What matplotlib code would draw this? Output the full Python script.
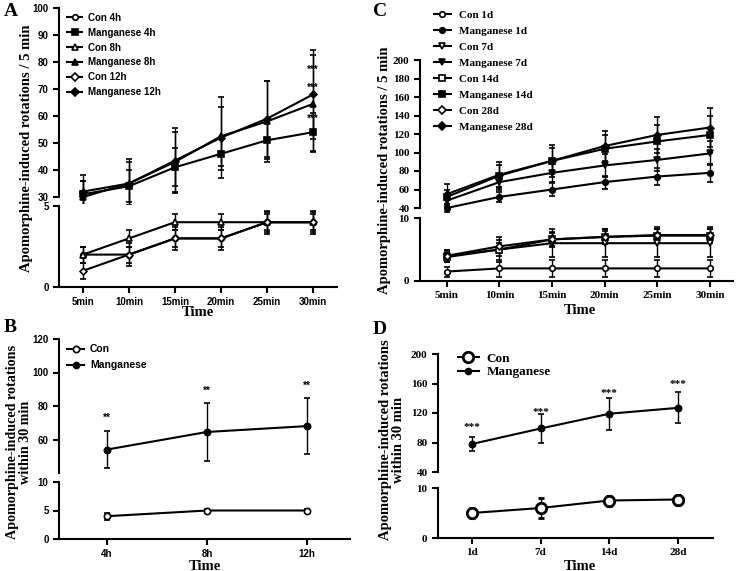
import matplotlib
matplotlib.use("Agg")
import matplotlib.pyplot as plt
import numpy as np
from matplotlib.lines import Line2D
from matplotlib.patches import Rectangle

SERIF = "Liberation Serif"
SANS = "Liberation Sans"

# ---------------- data ----------------
time_a = ["5min", "10min", "15min", "20min", "25min", "30min"]
man_4h = [31, 34, 41, 46, 51, 54]
man_4h_err = [5, 6, 7, 6, 7, 7]
man_8h = [30, 35, 43, 52.5, 58, 64.5]
man_8h_err = [6, 8, 11, 11, 15, 18]
man_12h = [32, 35, 43.5, 52, 59, 68]
man_12h_err = [6, 9, 12, 15, 14, 16.5]
con_4h = [2, 2, 3, 3, 4, 4]
con_4h_err = [0.5, 0.5, 0.5, 0.5, 0.5, 0.5]
con_8h = [2, 3, 4, 4, 4, 4]
con_8h_err = [0.5, 0.5, 0.5, 0.5, 0.6, 0.6]
con_12h = [1, 2, 3, 3, 4, 4]
con_12h_err = [0.5, 0.7, 0.7, 0.7, 0.7, 0.7]
stars_a = [77, 70.5, 59]

time_c = ["5min", "10min", "15min", "20min", "25min", "30min"]
man_1d = [40, 52, 60, 68, 74, 78]
man_1d_err = [4, 5, 7, 7, 9, 10]
man_7d = [48, 68, 78, 86, 92, 99]
man_7d_err = [6, 8, 10, 12, 12, 13]
man_14d = [52, 75, 91, 104, 112, 119]
man_14d_err = [8, 12, 14, 15, 18, 20]
man_28d = [55, 76, 91, 107, 119, 127]
man_28d_err = [11, 14, 17, 16, 19, 21]
con_1d = [1.5, 2, 2, 2, 2, 2]
con_1d_err = [0.8, 1.3, 1.3, 1.3, 1.3, 1.3]
con_7d = [4, 5, 6, 6, 6, 6]
con_7d_err = [1, 2, 2.2, 2.2, 2.2, 2.2]
con_14d = [3.8, 5, 6.6, 7, 7.2, 7.2]
con_14d_err = [0.8, 1, 1, 1, 1, 1]
con_28d = [4, 5.5, 6.6, 7, 7.3, 7.3]
con_28d_err = [1, 1, 1.2, 1.2, 1.2, 1.2]

time_b = ["4h", "8h", "12h"]
man_b = [54, 64.5, 68]
man_b_err = [11, 17.5, 16.5]
con_b = [4, 5, 5]
con_b_err = [0.6, 0.3, 0.3]
stars_b = [73, 89, 92]

time_d = ["1d", "7d", "14d", "28d"]
man_d = [78, 99, 119, 127]
man_d_err = [10, 20, 22, 21]
con_d = [5, 6, 7.5, 7.7]
con_d_err = [1, 2, 1, 1]
stars_d = [100, 120, 147, 159]

W, H = 738, 571
fig = plt.figure(figsize=(W / 100, H / 100), dpi=100)


def rect(x0, y0, x1, y1):
    return [x0 / W, 1 - y1 / H, (x1 - x0) / W, (y1 - y0) / H]


def broken(x0, x1, ytop0, ytop1, ybot0, ybot1, xlim, top_lim, bot_lim,
           top_ticks, bot_ticks, xlabels, tickfont, tsize):
    at = fig.add_axes(rect(x0, ytop0, x1, ytop1))
    ab = fig.add_axes(rect(x0, ybot0, x1, ybot1))
    for a in (at, ab):
        a.set_xlim(*xlim)
        a.patch.set_visible(False)
        for s in ("top", "right"):
            a.spines[s].set_visible(False)
        a.spines["left"].set_linewidth(1.5)
        a.tick_params(width=1.5, length=4, direction="out")
    at.spines["bottom"].set_visible(False)
    at.tick_params(axis="x", bottom=False, labelbottom=False)
    ab.spines["bottom"].set_linewidth(1.5)
    at.set_ylim(*top_lim)
    ab.set_ylim(*bot_lim)
    at.set_yticks(top_ticks)
    ab.set_yticks(bot_ticks)
    ab.set_xticks(np.arange(1, len(xlabels) + 1))
    ab.set_xticklabels(xlabels)
    for a in (at, ab):
        for lab in a.get_xticklabels() + a.get_yticklabels():
            lab.set_fontfamily(tickfont)
            lab.set_fontweight("bold")
            lab.set_fontsize(tsize)
    return at, ab


def series(axes, x, y, e, marker, filled, ms=4, mew=1.2):
    for a in axes:
        cont = a.errorbar(x, y, yerr=e, color="black", lw=1.5, marker=marker,
                          ms=ms, mfc="black" if filled else "white",
                          mec="black", mew=mew, capsize=2.5, elinewidth=1,
                          capthick=1, zorder=3)
        clip = Rectangle((-0.03, -0.035), 1.06, 1.07, transform=a.transAxes)
        arts = [cont[0]] + list(cont[1]) + list(cont[2])
        for art in arts:
            art.set_clip_path(clip)


# ---------------- Panel A ----------------
xa = np.arange(1, 7)
atA, abA = broken(59, 337, 8, 197, 206, 287, (0.48, 6.52), (30, 100), (0, 5),
                  [30, 40, 50, 60, 70, 80, 90, 100], [0, 5], time_a, SANS, 7)
ax_pair = (atA, abA)
series(ax_pair, xa, con_4h, con_4h_err, "o", False)
series(ax_pair, xa, man_4h, man_4h_err, "s", True)
series(ax_pair, xa, con_8h, con_8h_err, "^", False)
series(ax_pair, xa, man_8h, man_8h_err, "^", True)
series(ax_pair, xa, con_12h, con_12h_err, "D", False, ms=3.5)
series(ax_pair, xa, man_12h, man_12h_err, "D", True, ms=3.5)
for s in stars_a:
    atA.text(6, s, "***", ha="center", va="center", fontsize=7,
             fontweight="bold", family=SANS)

legA = [("Con 4h", "o", False), ("Manganese 4h", "s", True),
        ("Con 8h", "^", False), ("Manganese 8h", "^", True),
        ("Con 12h", "D", False), ("Manganese 12h", "D", True)]
hA = [Line2D([], [], color="black", lw=1.5, marker=m, ms=4,
             mfc="black" if f else "white", mec="black", mew=1.2)
      for _, m, f in legA]
fig.legend(hA, [l for l, _, _ in legA], loc="upper left",
           bbox_to_anchor=(62 / W, 1 - 8 / H), frameon=False,
           prop={"family": SANS, "size": 7, "weight": "bold"},
           handlelength=1.6, labelspacing=0.5, handletextpad=0.6,
           borderpad=0)

fig.text(27 / W, 1 - 148 / H, "Apomorphine-induced rotations / 5 min",
         rotation=90, ha="center", va="center", family=SERIF,
         fontweight="bold", fontsize=10.5)
fig.text(198 / W, 1 - 313 / H, "Time", ha="center", va="center",
         family=SERIF, fontweight="bold", fontsize=10.5)

# ---------------- Panel C ----------------
xc = np.arange(1, 7)
atC, abC = broken(420, 733, 60, 208, 218, 281, (0.49, 6.44), (40, 200), (0, 10),
                  list(range(40, 201, 20)), [0, 10], time_c, SERIF, 8)
cp = (atC, abC)
series(cp, xc, con_1d, con_1d_err, "o", False)
series(cp, xc, man_1d, man_1d_err, "o", True)
series(cp, xc, con_7d, con_7d_err, "v", False)
series(cp, xc, man_7d, man_7d_err, "v", True)
series(cp, xc, con_14d, con_14d_err, "s", False)
series(cp, xc, man_14d, man_14d_err, "s", True)
series(cp, xc, con_28d, con_28d_err, "D", False, ms=3.5)
series(cp, xc, man_28d, man_28d_err, "D", True, ms=3.5)

legC = [("Con 1d", "o", False), ("Manganese 1d", "o", True),
        ("Con 7d", "v", False), ("Manganese 7d", "v", True),
        ("Con 14d", "s", False), ("Manganese 14d", "s", True),
        ("Con 28d", "D", False), ("Manganese 28d", "D", True)]
hC = [Line2D([], [], color="black", lw=1.5, marker=m, ms=4,
             mfc="black" if f else "white", mec="black", mew=1.2)
      for _, m, f in legC]
fig.legend(hC, [l for l, _, _ in legC], loc="upper left",
           bbox_to_anchor=(428 / W, 1 - 5 / H), frameon=False,
           prop={"family": SERIF, "size": 8, "weight": "bold"},
           handlelength=1.6, labelspacing=0.55, handletextpad=0.7,
           borderpad=0)

fig.text(384 / W, 1 - 170 / H, "Apomorphine-induced rotations / 5 min",
         rotation=90, ha="center", va="center", family=SERIF,
         fontweight="bold", fontsize=10.5)
fig.text(580 / W, 1 - 310 / H, "Time", ha="center", va="center",
         family=SERIF, fontweight="bold", fontsize=10.5)

# ---------------- Panel B ----------------
xb = np.arange(1, 4)
atB, abB = broken(59, 350, 339, 473, 482, 539, (0.52, 3.43), (40, 120), (0, 10),
                  [60, 80, 100, 120], [0, 5, 10], time_b, SANS, 7)
bp = (atB, abB)
series(bp, xb, con_b, con_b_err, "o", False, ms=4.5)
series(bp, xb, man_b, man_b_err, "o", True, ms=4.5)
for xi, s in zip(xb, stars_b):
    atB.text(xi, s, "**", ha="center", va="center", fontsize=7,
             fontweight="bold", family=SANS)
hB = [Line2D([], [], color="black", lw=1.5, marker="o", ms=4.5, mfc="white",
             mec="black", mew=1.2),
      Line2D([], [], color="black", lw=1.5, marker="o", ms=4.5, mfc="black",
             mec="black")]
fig.legend(hB, ["Con", "Manganese"], loc="upper left",
           bbox_to_anchor=(62 / W, 1 - 339 / H), frameon=False,
           prop={"family": SANS, "size": 7.5, "weight": "bold"},
           handlelength=1.6, labelspacing=0.6, handletextpad=0.6,
           borderpad=0)
fig.text(19 / W, 1 - 442 / H, "Apomorphine-induced rotations\nwithin 30 min",
         rotation=90, ha="center", va="center", family=SERIF,
         fontweight="bold", fontsize=10.2, linespacing=1.05)
fig.text(205 / W, 1 - 566 / H, "Time", ha="center", va="center",
         family=SERIF, fontweight="bold", fontsize=10.5)

# ---------------- Panel D ----------------
xd = np.arange(1, 5)
atD, abD = broken(438, 713, 354, 472, 488, 538, (0.505, 4.51), (40, 200), (0, 10),
                  [40, 80, 120, 160, 200], [0, 10], time_d, SERIF, 8)
dp = (atD, abD)
series(dp, xd, con_d, con_d_err, "o", False, ms=7.5, mew=2)
series(dp, xd, man_d, man_d_err, "o", True, ms=4.5)
for xi, s in zip(xd, stars_d):
    atD.text(xi, s, "***", ha="center", va="center", fontsize=8,
             fontweight="bold", family=SERIF)
hD = [Line2D([], [], color="black", lw=1.5, marker="o", ms=7.5, mfc="white",
             mec="black", mew=2),
      Line2D([], [], color="black", lw=1.5, marker="o", ms=4.5, mfc="black",
             mec="black")]
fig.legend(hD, ["Con", "Manganese"], loc="upper left",
           bbox_to_anchor=(451 / W, 1 - 346 / H), frameon=False,
           prop={"family": SERIF, "size": 9.5, "weight": "bold"},
           handlelength=1.6, labelspacing=0.1, handletextpad=0.6,
           borderpad=0)
fig.text(392 / W, 1 - 440 / H, "Apomorphine-induced rotations\nwithin 30 min",
         rotation=90, ha="center", va="center", family=SERIF,
         fontweight="bold", fontsize=10.5, linespacing=1.1)
fig.text(580 / W, 1 - 566 / H, "Time", ha="center", va="center",
         family=SERIF, fontweight="bold", fontsize=10.5)

# ---------------- Panel letters ----------------
for lab, (x, y) in {"A": (4, 12), "C": (373, 12), "B": (4, 328),
                    "D": (373, 330)}.items():
    fig.text(x / W, 1 - y / H, lab, ha="left", va="center", family=SERIF,
             fontweight="bold", fontsize=14)

fig.savefig("out.png", dpi=100)
